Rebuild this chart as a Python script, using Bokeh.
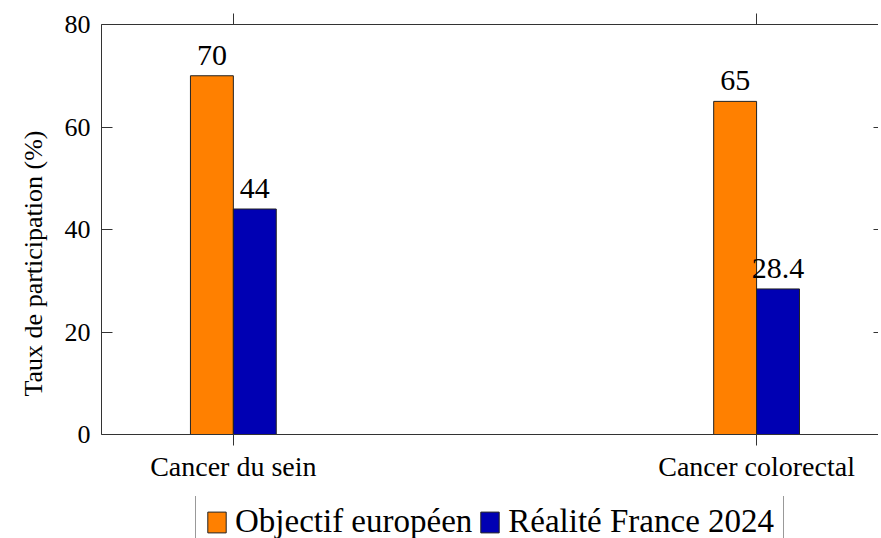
import numpy as np
from bokeh.plotting import figure
from bokeh.layouts import column
from bokeh.models import (ColumnDataSource, Range1d, FixedTicker, LinearAxis,
                          Legend, LegendItem, Title)
from bokeh.core.properties import value
from bokeh.embed import file_html
from bokeh.resources import INLINE

categories = ["Cancer du sein", "Cancer colorectal"]
objectif = [70, 65]
realite = [44, 28.4]
series_names = ["Objectif européen", "Réalité France 2024"]
y_ticks = [0, 20, 40, 60, 80]
y_title = "Taux de participation (%)"

FONT = "Liberation Serif"
AX = "#333333"
ORANGE = "#FF8000"
BLUE = "#0000B3"
BW = 0.082
COLORS = [ORANGE, BLUE]

pos = list(range(len(categories)))
src_o = ColumnDataSource(dict(x=[p_ - BW / 2 for p_ in pos], top=objectif,
                              lab=[f"{v:g}" for v in objectif]))
src_r = ColumnDataSource(dict(x=[p_ + BW / 2 for p_ in pos], top=realite,
                              lab=[f"{v:g}" for v in realite]))

p = figure(width=881, frame_width=777, frame_height=410,
           output_backend="svg", toolbar_location=None,
           x_range=Range1d(-0.252, 1.233), y_range=Range1d(0, 80),
           x_axis_location=None, y_axis_location=None,
           min_border_left=101, min_border_right=0, min_border_top=24,
           min_border_bottom=62)
p.outline_line_color = None
p.grid.visible = False
p.background_fill_color = "white"
p.border_fill_color = "white"

r_o = p.vbar(x="x", top="top", width=BW, source=src_o, fill_color=ORANGE,
             line_color="#222222", line_width=1)
r_r = p.vbar(x="x", top="top", width=BW, source=src_r, fill_color=BLUE,
             line_color="#222222", line_width=1)

for src in (src_o, src_r):
    p.text(x="x", y="top", text="lab", source=src, text_align="center",
           text_baseline="bottom", y_offset=-11,
           text_font=value(FONT), text_font_size="30px", text_color="black")

# left axis
yax = LinearAxis(ticker=FixedTicker(ticks=y_ticks))
yax.axis_line_color = AX
yax.major_tick_line_color = AX
yax.major_tick_in = 11
yax.major_tick_out = 0
yax.minor_tick_line_color = None
yax.major_label_standoff = 11
yax.major_label_text_font = FONT
yax.major_label_text_font_size = "26px"
yax.major_label_text_color = "black"
p.add_layout(yax, "left")

ytitle = Title(text=y_title, align="left", offset=38, standoff=28,
               text_font=FONT, text_font_size="26px", text_font_style="normal",
               text_color="black")
p.add_layout(ytitle, "left")

# right axis (ticks only)
rax = LinearAxis(ticker=FixedTicker(ticks=y_ticks))
rax.axis_line_color = None
rax.major_tick_line_color = AX
rax.major_tick_in = 5
rax.major_tick_out = 0
rax.minor_tick_line_color = None
rax.major_label_text_color = None
rax.major_label_text_font_size = "1px"
rax.major_label_standoff = 0
p.add_layout(rax, "right")

# top axis (ticks only)
tax = LinearAxis(ticker=FixedTicker(ticks=pos))
tax.axis_line_color = AX
tax.major_tick_line_color = AX
tax.major_tick_in = 0
tax.major_tick_out = 11
tax.minor_tick_line_color = None
tax.major_label_text_color = None
tax.major_label_text_font_size = "1px"
tax.major_label_standoff = 0
p.add_layout(tax, "above")

# bottom axis
xax = LinearAxis(ticker=FixedTicker(ticks=pos))
xax.major_label_overrides = {i: c for i, c in zip(pos, categories)}
xax.axis_line_color = AX
xax.major_tick_line_color = AX
xax.major_tick_in = 0
xax.major_tick_out = 11
xax.minor_tick_line_color = None
xax.major_label_standoff = 5
xax.major_label_text_font = FONT
xax.major_label_text_font_size = "28px"
xax.major_label_text_color = "black"
p.add_layout(xax, "below")

# legend strip below the chart
pl = figure(width=881, height=42, output_backend="svg", toolbar_location=None,
            x_axis_location=None, y_axis_location=None,
            x_range=Range1d(0, 1), y_range=Range1d(0, 1),
            min_border_left=0, min_border_right=0, min_border_top=0,
            min_border_bottom=0)
pl.outline_line_color = None
pl.grid.visible = False
pl.background_fill_color = "white"
pl.border_fill_color = "white"
leg_r = [pl.vbar(x=np.array([np.nan]), top=np.array([np.nan]), width=BW,
                 fill_color=c, line_color="#222222", line_width=1) for c in COLORS]

legend = Legend(items=[LegendItem(label=n, renderers=[r]) for n, r in zip(series_names, leg_r)],
                orientation="horizontal", location=(94, -12))
legend.label_text_font = FONT
legend.label_text_font_size = "33px"
legend.label_text_color = "black"
legend.border_line_color = AX
legend.border_line_width = 1
legend.background_fill_color = "white"
legend.background_fill_alpha = 1
legend.padding = 9
legend.spacing = 6
legend.margin = 0
legend.glyph_width = 23
legend.glyph_height = 26
legend.label_standoff = 7
pl.add_layout(legend, "center")

open("out.html", "w").write(file_html(column(p, pl, spacing=0), INLINE))
